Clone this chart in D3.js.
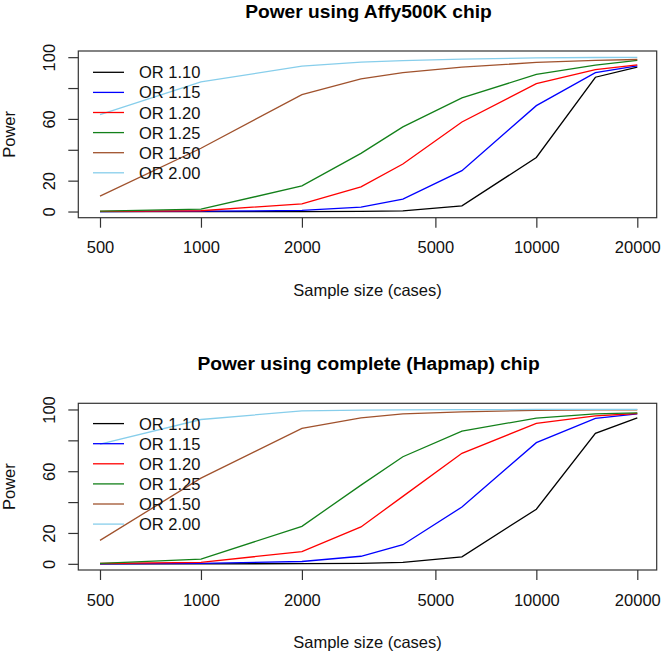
<!DOCTYPE html>
<html>
<head>
<meta charset="utf-8">
<script src="https://cdn.jsdelivr.net/npm/d3@7"></script>
<style>
  html, body { margin: 0; padding: 0; background: #fff; }
  svg { display: block; font-family: "Liberation Sans", Arial, Helvetica, sans-serif; }
</style>
</head>
<body>
<svg id="chart" width="661" height="653"></svg>
<script>
// ---- Data ----
const sampleSizes = [500, 1000, 2000, 3000, 4000, 6000, 10000, 15000, 20000];
const seriesNames = ["OR 1.10", "OR 1.15", "OR 1.20", "OR 1.25", "OR 1.50", "OR 2.00"];
const seriesColors = ["#000000", "#0000FF", "#FF0000", "#13801A", "#A0522D", "#87CEEB"];

const affyOR110 = [0, 0, 0, 0.1, 0.4, 3.7, 35, 87, 93.5];
const affyOR115 = [0, 0.2, 0.7, 2.8, 8, 26.5, 68.6, 90, 94.4];
const affyOR120 = [0.1, 0.5, 5, 16, 30.8, 58, 82.8, 92, 95];
const affyOR125 = [0.3, 1.5, 16.6, 37.7, 54.8, 73.6, 88.8, 94.9, 97.9];
const affyOR150 = [10, 41, 75.7, 86, 90, 93.5, 96.6, 97.9, 98.5];
const affyOR200 = [62.8, 84, 94.2, 96.8, 97.8, 98.8, 99.5, 99.8, 99.9];

const hapOR110 = [0, 0, 0.1, 0.3, 1, 4.5, 35.4, 84.5, 94.6];
const hapOR115 = [0, 0.3, 1.5, 4.9, 12.4, 36.8, 78.5, 94.2, 97.2];
const hapOR120 = [0.2, 1, 7.9, 23.9, 43.7, 71.6, 91, 95.9, 97.4];
const hapOR125 = [0.3, 3, 24.3, 51, 69.4, 86, 94.4, 97.2, 97.8];
const hapOR150 = [15.2, 55.5, 87.7, 94.6, 97.2, 98.5, 99.4, 99.7, 99.8];
const hapOR200 = [77.6, 93.5, 99.1, 99.6, 99.8, 99.9, 100, 100, 100];

const xTicks = [500, 1000, 2000, 5000, 10000, 20000];
const yTicks = [0, 20, 40, 60, 80, 100];
const yTickLabelsShown = [0, 20, 60, 100];

const titles = ["Power using Affy500K chip", "Power using complete (Hapmap) chip"];
const xTitle = "Sample size (cases)";
const yTitle = "Power";

const panelSeries = [
  [affyOR110, affyOR115, affyOR120, affyOR125, affyOR150, affyOR200],
  [hapOR110, hapOR115, hapOR120, hapOR125, hapOR150, hapOR200]
];

// ---- Layout ----
const svg = d3.select("#chart");
const boxLeft = 78.3, boxRight = 656.7, boxH = 166.7;
const panelTops = [51, 403.3];
const FONT = 16.5;

const x = d3.scaleLog().domain([500, 20000]).range([100, 637.3]);

panelTops.forEach((top, pi) => {
  const bottom = top + boxH;
  // R-style 4% extension: ylim 0..100 -> -4..104
  const y = d3.scaleLinear().domain([-4, 104]).range([bottom, top]);
  const g = svg.append("g");

  // title
  g.append("text")
    .attr("x", (boxLeft + boxRight) / 2 + 1)
    .attr("y", top - 33.5)
    .attr("text-anchor", "middle")
    .attr("font-weight", "bold")
    .attr("font-size", 19.2)
    .attr("fill", "#000")
    .text(titles[pi]);

  // lines
  const line = d3.line()
    .x((d, i) => x(sampleSizes[i]))
    .y(d => y(d));
  panelSeries[pi].forEach((vals, si) => {
    g.append("path")
      .datum(vals)
      .attr("d", line)
      .attr("fill", "none")
      .attr("stroke", seriesColors[si])
      .attr("stroke-width", 1.3);
  });

  // box
  g.append("rect")
    .attr("x", boxLeft).attr("y", top)
    .attr("width", boxRight - boxLeft).attr("height", boxH)
    .attr("fill", "none").attr("stroke", "#333").attr("stroke-width", 1.2);

  // x axis
  const xa = g.append("g")
    .attr("transform", `translate(0,${bottom})`)
    .call(d3.axisBottom(x).tickValues(xTicks).tickFormat(d3.format("d")).tickSize(10).tickPadding(14));
  xa.select(".domain").remove();
  xa.selectAll(".tick line").attr("stroke", "#333").attr("stroke-width", 1.2);
  xa.selectAll(".tick text")
    .attr("font-size", FONT)
    .attr("font-family", "Liberation Sans, Arial, sans-serif")
    .attr("fill", "#111");

  // y axis
  const ya = g.append("g")
    .attr("transform", `translate(${boxLeft},0)`)
    .call(d3.axisLeft(y).tickValues(yTicks).tickSize(10).tickFormat(d => yTickLabelsShown.includes(d) ? d : ""));
  ya.select(".domain").remove();
  ya.selectAll(".tick line").attr("stroke", "#333").attr("stroke-width", 1.2);
  ya.selectAll(".tick text")
    .attr("font-size", FONT)
    .attr("font-family", "Liberation Sans, Arial, sans-serif")
    .attr("fill", "#111")
    .attr("text-anchor", "middle")
    .attr("dy", 0)
    .attr("x", 0)
    .attr("transform", "translate(-23,0) rotate(-90)");

  // axis titles
  g.append("text")
    .attr("x", (boxLeft + boxRight) / 2)
    .attr("y", bottom + 78)
    .attr("text-anchor", "middle")
    .attr("font-size", FONT)
    .attr("fill", "#111")
    .text(xTitle);
  g.append("text")
    .attr("transform", `translate(15,${(top + bottom) / 2}) rotate(-90)`)
    .attr("text-anchor", "middle")
    .attr("font-size", FONT)
    .attr("fill", "#111")
    .text(yTitle);

  // legend
  const legTop = top + 21.3 + pi * -1;
  seriesNames.forEach((name, si) => {
    const ly = legTop + si * 20.1;
    g.append("line")
      .attr("x1", 93).attr("x2", 124)
      .attr("y1", ly).attr("y2", ly)
      .attr("stroke", seriesColors[si]).attr("stroke-width", 1.3);
    g.append("text")
      .attr("x", 139).attr("y", ly + 6)
      .attr("font-size", FONT)
      .attr("fill", "#111")
      .text(name);
  });
});
</script>
</body>
</html>
